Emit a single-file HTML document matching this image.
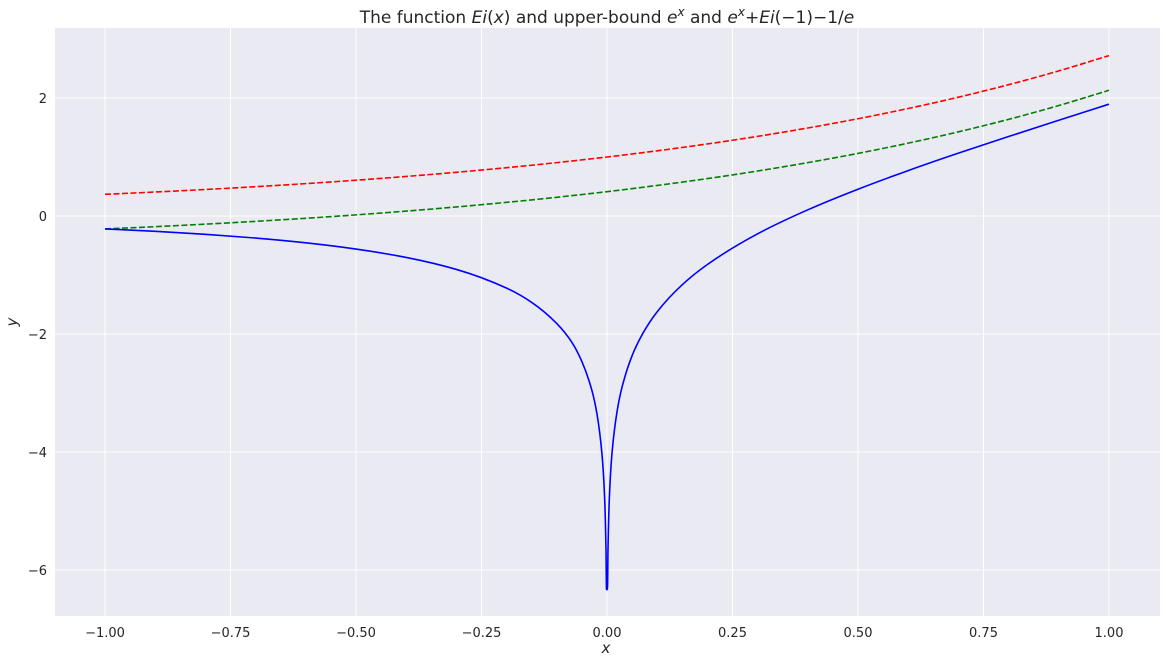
<!DOCTYPE html>
<html><head><meta charset="utf-8"><style>
body{margin:0;background:#fff;width:1166px;height:663px;overflow:hidden}
svg text{font-family:"DejaVu Sans","Liberation Sans",sans-serif;fill:#262626}
</style></head><body>
<svg id="chart" width="1166" height="663" xmlns="http://www.w3.org/2000/svg">
<rect x="55" y="28" width="1105" height="588" fill="#eaeaf2"/>
<g id="grid"></g><g id="series"></g><g id="ticks"></g>
<text x="607" y="23" text-anchor="middle" font-size="17">The function <tspan font-style="italic">Ei</tspan>(<tspan font-style="italic">x</tspan>) and upper-bound <tspan font-style="italic">e</tspan><tspan font-style="italic" font-size="12" dy="-7">x</tspan><tspan dy="7"> and </tspan><tspan font-style="italic">e</tspan><tspan font-style="italic" font-size="12" dy="-7">x</tspan><tspan dy="7">+</tspan><tspan font-style="italic">Ei</tspan>(−1)−1/<tspan font-style="italic">e</tspan></text>
<text x="606" y="653" text-anchor="middle" font-size="15" font-style="italic">x</text>
<text x="17" y="322" text-anchor="middle" font-size="15" font-style="italic" transform="rotate(-90 17 322)">y</text>
</svg>
<script>
const xTicks=[-1,-0.75,-0.5,-0.25,0,0.25,0.5,0.75,1];
const xTickLabels=["−1.00","−0.75","−0.50","−0.25","0.00","0.25","0.50","0.75","1.00"];
const yTicks=[-6,-4,-2,0,2];
const yTickLabels=["−6","−4","−2","0","2"];
const eiX=[-1,-0.9,-0.8,-0.7,-0.6,-0.5,-0.4,-0.3,-0.2,-0.15,-0.1,-0.07,-0.05,-0.03,-0.02,-0.01,-0.005,-0.002,-0.001,0.001,0.002,0.005,0.01,0.02,0.03,0.05,0.07,0.1,0.15,0.2,0.3,0.4,0.5,0.6,0.7,0.8,0.9,1];
const eiY=[-0.2194,-0.2602,-0.3106,-0.3738,-0.4544,-0.5598,-0.7024,-0.9057,-1.2227,-1.4645,-1.8229,-2.1407,-2.4679,-2.9591,-3.3547,-4.0379,-4.7261,-5.6394,-6.3315,-6.3295,-5.6354,-4.7161,-4.0179,-3.3147,-2.8999,-2.3679,-2.0103,-1.6228,-1.1641,-0.8218,-0.3022,0.1048,0.4542,0.7699,1.0649,1.3474,1.6228,1.8951];
const expX=[-1,-0.9,-0.8,-0.7,-0.6,-0.5,-0.4,-0.3,-0.2,-0.1,0,0.1,0.2,0.3,0.4,0.5,0.6,0.7,0.8,0.9,1];
const expY=[0.3679,0.4066,0.4493,0.4966,0.5488,0.6065,0.6703,0.7408,0.8187,0.9048,1,1.1052,1.2214,1.3499,1.4918,1.6487,1.8221,2.0138,2.2255,2.4596,2.7183];
const shiftY=[-0.2194,-0.1807,-0.1380,-0.0907,-0.0385,0.0192,0.0830,0.1535,0.2314,0.3175,0.4127,0.5179,0.6341,0.7626,0.9045,1.0614,1.2348,1.4265,1.6382,1.8723,2.1310];
const X=v=>607+v*502, Y=v=>216-v*59;
const NS="http://www.w3.org/2000/svg";
const grid=document.getElementById('grid'),ticks=document.getElementById('ticks'),ser=document.getElementById('series');
function mk(t,a,p){const e=document.createElementNS(NS,t);for(const k in a)e.setAttribute(k,a[k]);p.appendChild(e);return e;}
xTicks.forEach((v,i)=>{
 const l=mk('line',{x1:X(v),x2:X(v),y1:28,y2:616,stroke:'#fff','stroke-width':1},grid);
 
 
 const t=mk('text',{x:X(v),y:637,'text-anchor':'middle','font-size':13},ticks);t.textContent=xTickLabels[i];
 
 
});
yTicks.forEach((v,i)=>{
 const l=mk('line',{x1:55,x2:1160,y1:Y(v),y2:Y(v),stroke:'#fff','stroke-width':1},grid);
 
 
 const t=mk('text',{x:47,y:Y(v)+5,'text-anchor':'end','font-size':13},ticks);t.textContent=yTickLabels[i];
 
 
});
function monoPath(px,py){
 const n=px.length,d=[],m=[];
 for(let i=0;i<n-1;i++)d.push((py[i+1]-py[i])/(px[i+1]-px[i]));
 m[0]=d[0];m[n-1]=d[n-2];
 for(let i=1;i<n-1;i++){
  if(d[i-1]*d[i]<=0)m[i]=0;
  else{const h0=px[i]-px[i-1],h1=px[i+1]-px[i],w1=2*h1+h0,w2=h1+2*h0;m[i]=(w1+w2)/(w1/d[i-1]+w2/d[i]);}
 }
 let s='M'+px[0]+','+py[0];
 for(let i=0;i<n-1;i++){const h=(px[i+1]-px[i])/3;
  s+=' C'+(px[i]+h)+','+(py[i]+m[i]*h)+' '+(px[i+1]-h)+','+(py[i+1]-m[i+1]*h)+' '+px[i+1]+','+py[i+1];}
 return s;
}
function line(xs,ys,color,dash,name){
 const p=mk('path',{d:monoPath(xs.map(X),ys.map(Y)),fill:'none',stroke:color,'stroke-width':1.6},ser);
 if(dash)p.setAttribute('stroke-dasharray',dash);
 
 
}
line(expX,expY,'#ff0000','6,2.5','exp-upper-bound-line');
line(expX,shiftY,'#008000','6,2.5','shifted-exp-line');
line(eiX,eiY,'#0000ff',null,'ei-function-line');
</script>
</body></html>
